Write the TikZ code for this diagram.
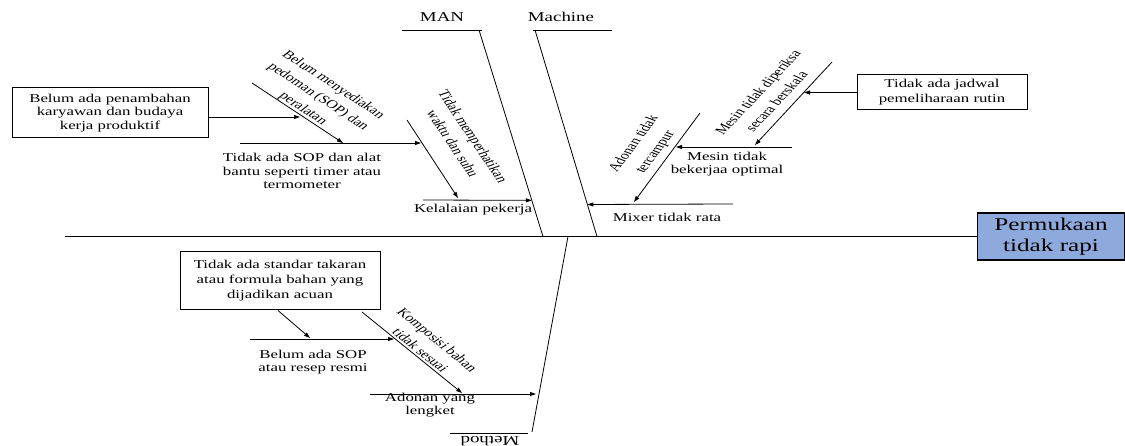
\documentclass[tikz,border=0pt]{standalone}
\usepackage{fontspec}
\setmainfont{Liberation Serif}
\newfontfamily\wide{Liberation Serif}[FakeStretch=1.4]
\usetikzlibrary{arrows.meta,calc}
\definecolor{effblue}{RGB}{142,169,219}
\tikzset{
 ln/.style={line width=0.8pt},
 arr/.style={line width=0.8pt,-{Triangle[length=6pt,width=4pt]}},
 hlab/.style={font=\wide\fontsize{12}{13.5}\selectfont, align=center, inner sep=0pt},
 rlab/.style={font=\fontsize{11.5}{16}\selectfont, align=center, inner sep=0pt, xscale=1.4, transform shape},
 cat/.style={font=\wide\fontsize{13.5}{15}\selectfont, inner sep=0pt},
 cbox/.style={draw, line width=1pt, align=center, inner sep=0pt, font=\wide\fontsize{12}{13.5}\selectfont},
}
\begin{document}
\begin{tikzpicture}[x=1pt,y=-1pt]
\useasboundingbox (0,0) rectangle (1125,446);
% effect and spine
\node[cbox, fill=effblue, minimum width=147pt, minimum height=47pt, line width=1.2pt, font=\wide\fontsize{18}{21}\selectfont] (eff) at (1051,236.5) {Permukaan\\tidak rapi};
\coordinate (spL) at (65,236.5);
\draw[ln] (spL) -- (eff.west);
% category bones
\coordinate (manA) at (402,30); \coordinate (manB) at (482,30);
\coordinate (manTop) at (479,30); \coordinate (manBot) at (543,236.5);
\draw[ln] (manA) -- (manB);
\draw[ln] (manTop) -- (manBot);
\node[cat] (man) at (442,17) {MAN};
\coordinate (macA) at (533,30); \coordinate (macB) at (612,30);
\coordinate (macTop) at (535,30); \coordinate (macBot) at (597,236.5);
\draw[ln] (macA) -- (macB);
\draw[ln] (macTop) -- (macBot);
\node[cat] (mac) at (561,17) {Machine};
\coordinate (metTop) at (568,236.5); \coordinate (metBot) at (532,432);
\coordinate (metA) at (450,433); \coordinate (metB) at (528,433);
\draw[ln] (metTop) -- (metBot);
\draw[ln] (metA) -- (metB);
\node[cat, rotate=180] (met) at (490,441) {Method};
% MAN causes
\node[cbox, minimum width=196pt, minimum height=50pt] (bA) at (110,113) {Belum ada penambahan\\karyawan dan budaya\\kerja produktif};
\coordinate (d1s) at (252,83); \coordinate (d1e) at (343,143);
\draw[arr] (d1s) -- (d1e);
\coordinate (a1e) at (300,117);
\draw[arr] ([yshift=-4pt]bA.east) -- (a1e);
\node[rlab, rotate=-42.3] (l2) at (318,97) {Belum menyediakan\\pedoman (SOP) dan\\peralatan};
\coordinate (h1s) at (240,143); \coordinate (h1e) at (421,143);
\draw[arr] (h1s) -- (h1e);
\node[hlab] (l1) at (302,171) {Tidak ada SOP dan alat\\bantu seperti timer atau\\termometer};
\coordinate (d2s) at (407,120); \coordinate (d2e) at (458,198);
\draw[arr] (d2s) -- (d2e);
\node[rlab, rotate=-64.3] (l3) at (463,140) {Tidak memperhatikan\\waktu dan suhu};
\coordinate (h2s) at (423,200); \coordinate (h2e) at ($(manTop)!0.825!(manBot)$);
\draw[arr] (h2s) -- (h2e);
\node[hlab] (l4) at (473,210) {Kelalaian pekerja};
% Machine causes
\node[cbox, minimum width=170pt, minimum height=35pt, font=\wide\fontsize{12}{15}\selectfont] (bB) at (942,92.5) {Tidak ada jadwal\\pemeliharaan rutin};
\coordinate (d3s) at (832,62); \coordinate (d3e) at (755,145);
\draw[arr] (d3s) -- (d3e);
\coordinate (a3e) at (804,92.5);
\draw[arr] (bB.west) -- (a3e);
\node[rlab, rotate=55.9] (l5) at (767,97) {Mesin tidak diperiksa\\secara berskala};
\coordinate (h3s) at (792,147); \coordinate (h3e) at (676,147);
\draw[arr] (h3s) -- (h3e);
\node[hlab] (l6) at (727,164) {Mesin tidak\\bekerjaa optimal};
\coordinate (d4s) at (700,113); \coordinate (d4e) at (634,202);
\draw[arr] (d4s) -- (d4e);
\node[rlab, rotate=61.7, font=\fontsize{11.5}{17.5}\selectfont] (l7) at (645,148) {Adonan tidak\\tercampur};
\coordinate (h4s) at (733,204); \coordinate (h4e) at ($(macTop)!0.845!(macBot)$);
\draw[arr] (h4s) -- (h4e);
\node[hlab] (l8) at (667,217) {Mixer tidak rata};
% Method causes
\node[cbox, minimum width=200pt, minimum height=58pt, font=\wide\fontsize{12}{15}\selectfont] (bC) at (280,281) {Tidak ada standar takaran\\atau formula bahan yang\\dijadikan acuan};
\coordinate (a5e) at (310,338);
\draw[arr] ([xshift=-2pt]bC.south) -- (a5e);
\coordinate (h5s) at (250,339); \coordinate (h5e) at (394,339);
\draw[arr] (h5s) -- (h5e);
\node[hlab] (l9) at (313,362) {Belum ada SOP\\atau resep resmi};
\coordinate (d5s) at (362,312); \coordinate (d5e) at (462,393);
\draw[arr] (d5s) -- (d5e);
\node[rlab, rotate=-48.6] (l10) at (429,345) {Komposisi bahan\\tidak sesuai};
\coordinate (h6s) at (370,394); \coordinate (h6e) at (536,394);
\draw[arr] (h6s) -- (h6e);
\node[hlab] (l11) at (430,405) {Adonan yang\\lengket};
\end{tikzpicture}
\end{document}
